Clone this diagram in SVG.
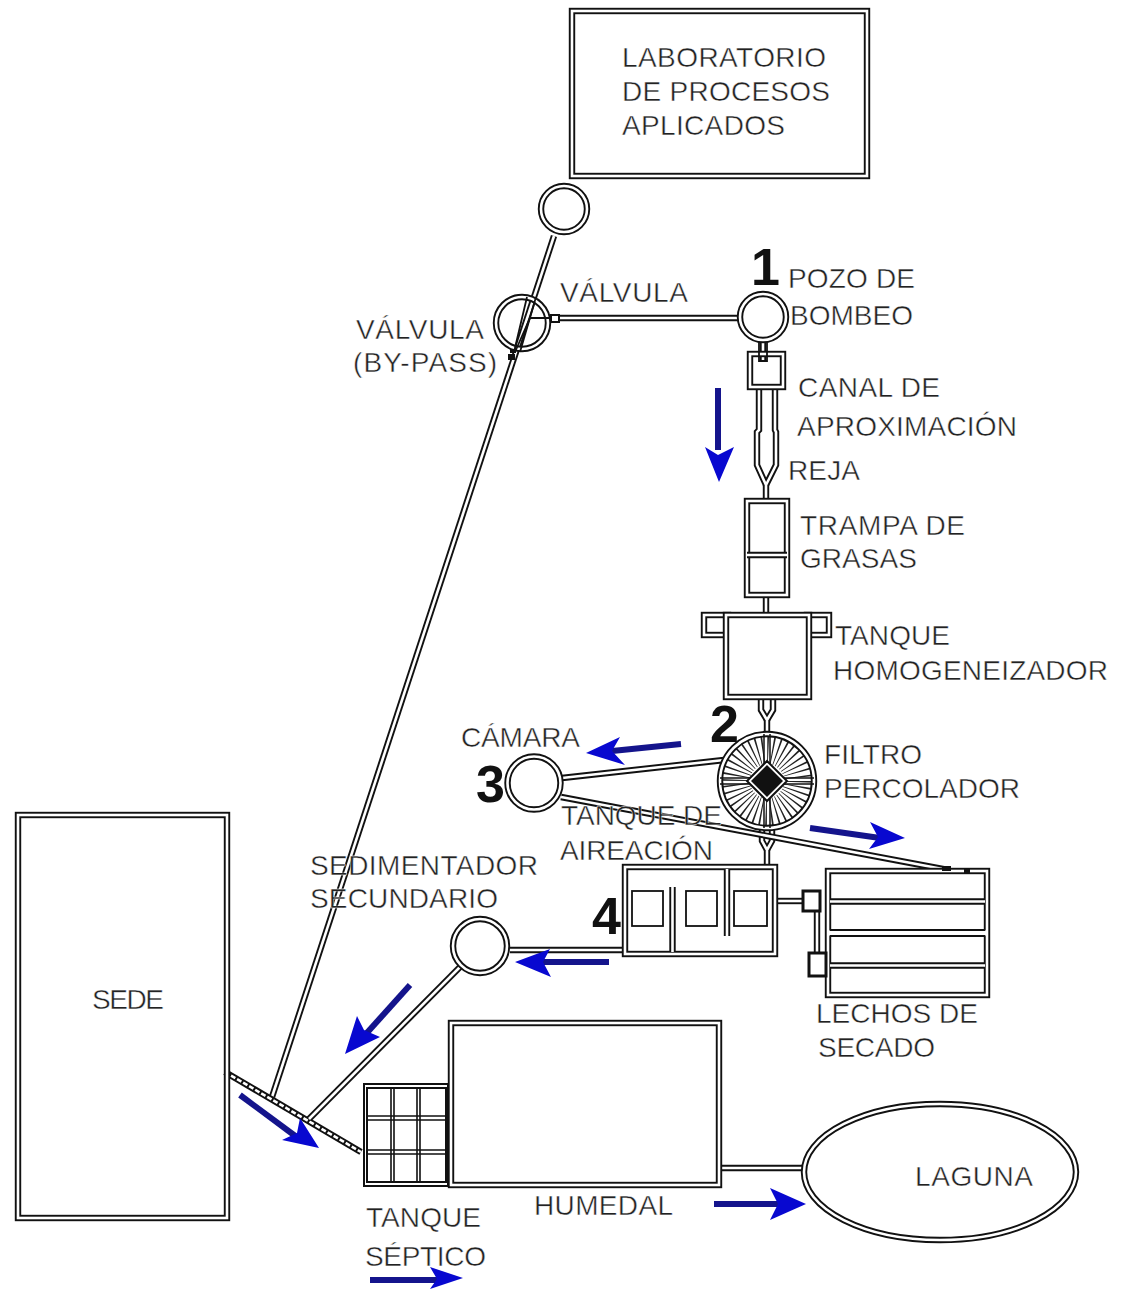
<svg xmlns="http://www.w3.org/2000/svg" width="1126" height="1289" viewBox="0 0 1126 1289">
<defs>
<style>
.o{fill:none;stroke:#111;stroke-width:6.4}
.i{fill:none;stroke:#fff;stroke-width:2.6}
.s{fill:none;stroke:#111;stroke-width:1.8}
.k{fill:none;stroke:#111;stroke-width:2}
.b{fill:#0808d0;stroke:none}
.bl{fill:none;stroke:#14148c;stroke-width:6}
text{font-family:"Liberation Sans",Arial,sans-serif;font-size:28px;fill:#222;stroke:#fff;stroke-width:.45px}
text.n{font-size:52px;font-weight:bold;fill:#111;stroke:none}
</style>
</defs>
<rect width="1126" height="1289" fill="#fff"/>

<g id="connectors">
<path class="o" d="M554 236L272 1097"/><path class="i" d="M554 236L272 1097"/>
<path class="o" d="M556 318H739"/><path class="i" d="M556 318H739"/>
<path class="o" d="M763 342V361"/><path class="i" d="M763 342V361"/>
<path class="o" d="M759 389V430L757 432V465L766 485M775 389V430L776 432V465L766 485"/>
<path class="i" d="M759 389V430L757 432V465L766 485M775 389V430L776 432V465L766 485"/>
<path class="o" d="M766 485V499"/><path class="i" d="M766 485V499"/>
<path class="o" d="M766 597V613"/><path class="i" d="M766 597V613"/>
<path class="o" d="M761 699V710L767 720M773 699V710L767 720"/><path class="i" d="M761 699V710L767 720M773 699V710L767 720"/>
<path class="o" d="M767 720V733"/><path class="i" d="M767 720V733"/>
<path class="o" d="M762 830V841L767 850M772 830V841L767 850"/><path class="i" d="M762 830V841L767 850M772 830V841L767 850"/>
<path class="o" d="M767 850V865"/><path class="i" d="M767 850V865"/>
<path class="o" d="M562 778L724 760"/><path class="i" d="M562 778L724 760"/>
<path class="o" d="M561 797L948 870"/><path class="i" d="M561 797L948 870"/>
<path class="o" d="M510 950H623"/><path class="i" d="M510 950H623"/>
<path class="o" d="M777 901H803"/><path class="i" d="M777 901H803"/>
<path class="o" d="M817 911V953"/><path class="i" d="M817 911V953"/>
<path class="o" d="M225 1072L361 1152"/><path class="i" d="M225 1072L361 1152" stroke-dasharray="5 2"/>
<path class="o" d="M460 967L309 1119"/><path class="i" d="M460 967L309 1119"/>
<path class="o" d="M721 1168H803"/><path class="i" d="M721 1168H803"/>
</g>

<g id="laboratorio">
<rect class="o" x="572" y="11" width="295" height="165"/><rect class="i" x="572" y="11" width="295" height="165"/>
<text x="622" y="67" textLength="204">LABORATORIO</text>
<text x="622" y="101" textLength="208">DE PROCESOS</text>
<text x="622" y="135" textLength="163">APLICADOS</text>
</g>

<g id="pozo-superior">
<circle class="o" cx="564" cy="209" r="23"/><circle class="i" cx="564" cy="209" r="23"/>
</g>

<g id="valvula-bypass">
<circle class="o" cx="522" cy="323" r="26"/><circle class="i" cx="522" cy="323" r="26"/>
<path class="s" d="M552 318H530L515 352M527 297L514 352"/>
<path class="s" d="M536 297L520 352"/>
<rect x="551" y="315" width="8" height="7" fill="#fff" stroke="#111" stroke-width="2"/>
<rect x="508" y="354" width="7" height="6" fill="#111"/>
<rect x="510" y="349" width="6" height="4" fill="#111"/>
<text x="560" y="302" textLength="128">VÁLVULA</text>
<text x="356" y="339" textLength="128">VÁLVULA</text>
<text x="353" y="372" textLength="144">(BY-PASS)</text>
</g>

<g id="pozo-bombeo">
<circle class="o" cx="763" cy="317" r="23"/><circle class="i" cx="763" cy="317" r="23"/>
<text class="n" x="751" y="285">1</text>
<text x="788" y="288" textLength="127">POZO DE</text>
<text x="790" y="325" textLength="123">BOMBEO</text>
</g>

<g id="canal">
<rect class="o" x="750" y="354" width="33" height="33"/><rect class="i" x="750" y="354" width="33" height="33"/>
<path class="s" d="M759 342V361H767V342"/>
<text x="798" y="397" textLength="142">CANAL DE</text>
<text x="797" y="436" textLength="220">APROXIMACIÓN</text>
<text x="788" y="480" textLength="72">REJA</text>
</g>

<g id="trampa">
<rect class="o" x="747" y="501" width="40" height="94"/><rect class="i" x="747" y="501" width="40" height="94"/>
<path class="o" d="M747 555H787"/><path class="i" d="M747 555H787"/>
<text x="800" y="535" textLength="165">TRAMPA DE</text>
<text x="800" y="568" textLength="117">GRASAS</text>
</g>

<g id="homogeneizador">
<rect class="o" x="704" y="615" width="24" height="20"/><rect class="i" x="704" y="615" width="24" height="20"/>
<rect class="o" x="807" y="615" width="22" height="20"/><rect class="i" x="807" y="615" width="22" height="20"/>
<rect x="726" y="615" width="83" height="82" fill="#fff"/>
<rect class="o" x="726" y="615" width="83" height="82"/><rect class="i" x="726" y="615" width="83" height="82"/>
<text x="835" y="645" textLength="115">TANQUE</text>
<text x="833" y="680" textLength="275">HOMOGENEIZADOR</text>
</g>

<g id="filtro">
<circle cx="767" cy="781" r="32" fill="#fff" stroke="#222" stroke-width="30" stroke-dasharray="1.3 3.7265"/>
<circle class="o" cx="767" cy="781" r="47"/><circle class="i" cx="767" cy="781" r="47"/>
<path class="s" style="stroke-width:1.5" d="M764 734V828M770 734V828M720 778H814M720 784H814"/>
<path fill="#fff" stroke="#111" stroke-width="2" d="M767 761L787 781L767 801L747 781Z"/>
<path fill="#111" d="M767 765L783 781L767 797L751 781Z"/>
<text class="n" x="710" y="742">2</text>
<text x="824" y="764" textLength="98">FILTRO</text>
<text x="824" y="798" textLength="196">PERCOLADOR</text>
</g>

<g id="camara">
<circle class="o" cx="534" cy="783" r="26.5"/><circle class="i" cx="534" cy="783" r="26.5"/>
<text class="n" x="476" y="802">3</text>
<text x="461" y="747" textLength="119">CÁMARA</text>
</g>

<g id="tanque-aireacion">
<rect class="o" x="625" y="867" width="150" height="87"/><rect class="i" x="625" y="867" width="150" height="87"/>
<rect class="s" x="632" y="891" width="31" height="35"/>
<rect class="s" x="686" y="891" width="31" height="35"/>
<rect class="s" x="734" y="891" width="33" height="35"/>
<path class="o" d="M672.500 887V952"/><path class="i" d="M672.500 887V952"/>
<path class="o" d="M727 869V936"/><path class="i" d="M727 869V936"/>
<text class="n" x="592" y="934">4</text>
<text x="561" y="825" textLength="161">TANQUE DE</text>
<text x="560" y="860" textLength="153">AIREACIÓN</text>
</g>

<g id="sedimentador">
<circle class="o" cx="480" cy="946" r="27"/><circle class="i" cx="480" cy="946" r="27"/>
<text x="310" y="875" textLength="228">SEDIMENTADOR</text>
<text x="310" y="908" textLength="188">SECUNDARIO</text>
</g>

<g id="lechos">
<rect class="o" x="828" y="871" width="159" height="124"/><rect class="i" x="828" y="871" width="159" height="124"/>
<path class="o" d="M830 901.500H985M830 965.500H985"/><path class="i" d="M830 901.500H985M830 965.500H985"/>
<path d="M829 933H986" stroke="#fff" stroke-width="5"/>
<path class="k" d="M830 930H985M830 936H985"/>
<rect x="803" y="891" width="17" height="20" fill="#fff" stroke="#111" stroke-width="3"/>
<rect x="809" y="953" width="17" height="23" fill="#fff" stroke="#111" stroke-width="3"/>
<rect x="942" y="866" width="9" height="5" fill="#111"/>
<rect x="964" y="868" width="6" height="5" fill="#111"/>
<text x="816" y="1023" textLength="162">LECHOS DE</text>
<text x="818" y="1057" textLength="117">SECADO</text>
</g>

<g id="sede">
<rect class="o" x="18" y="815" width="209" height="403"/><rect class="i" x="18" y="815" width="209" height="403"/>
<text x="92" y="1009" textLength="72">SEDE</text>
</g>

<g id="tanque-septico">
<rect class="k" x="364" y="1084" width="84" height="102"/>
<rect class="k" x="367" y="1088" width="79" height="94"/>
<path d="M391 1088V1182M394 1088V1182M417 1088V1182M420 1088V1182M367 1116H446M367 1120H446M367 1150H446M367 1154H446" fill="none" stroke="#111" stroke-width="1.6"/>
<text x="366" y="1227" textLength="115">TANQUE</text>
<text x="365" y="1266" textLength="121">SÉPTICO</text>
</g>

<g id="humedal">
<rect class="o" x="451" y="1023" width="268" height="162"/><rect class="i" x="451" y="1023" width="268" height="162"/>
<text x="534" y="1215" textLength="139">HUMEDAL</text>
</g>

<g id="laguna">
<ellipse class="o" cx="940" cy="1172" rx="136" ry="68"/><ellipse class="i" cx="940" cy="1172" rx="136" ry="68"/>
<text x="915" y="1186" textLength="118">LAGUNA</text>
</g>

<g id="flechas">
<path class="bl" d="M718 388V450"/><path class="b" d="M705 447L718 455L734 447L719 482Z"/>
<path class="bl" d="M681 744L612 751"/><path class="b" d="M586 753L620 737L612 751L625 765Z"/>
<path class="bl" d="M810 828L880 838"/><path class="b" d="M905 838L870 822L878 837L869 849Z"/>
<path class="bl" d="M609 962H535"/><path class="b" d="M515 962L550 949L543 962L551 977Z"/>
<path class="bl" d="M410 985L365 1035"/><path class="b" d="M345 1054L357 1016L364 1030L380 1037Z"/>
<path class="bl" d="M240 1095L298 1138"/><path class="b" d="M319 1148L300 1118L297 1133L282 1140Z"/>
<path class="bl" d="M370 1280H440"/><path class="b" d="M463 1278L430 1267L437 1279L430 1289Z"/>
<path class="bl" d="M714 1204H785"/><path class="b" d="M806 1204L770 1188L778 1204L770 1220Z"/>
</g>
</svg>
